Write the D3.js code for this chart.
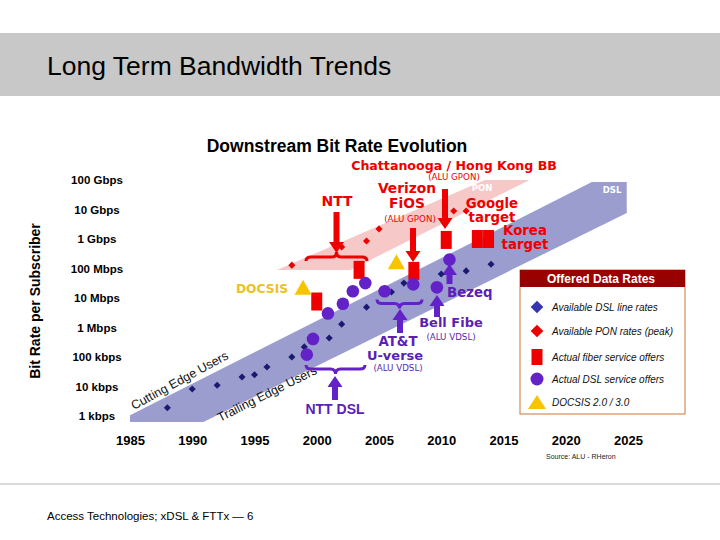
<!DOCTYPE html>
<html><head><meta charset="utf-8">
<script src="https://cdn.jsdelivr.net/npm/d3@7"></script>
<style>body{margin:0;background:#fff}svg{display:block}</style>
</head><body>
<svg id="c" width="720" height="540"></svg>
<script>
// ---------- data ----------
const xTicks = [1985, 1990, 1995, 2000, 2005, 2010, 2015, 2020, 2025];
const yTickValues = [1e3, 1e4, 1e5, 1e6, 1e7, 1e8, 1e9, 1e10, 1e11];
const yTickLabels = ["1 kbps", "10 kbps", "100 kbps", "1 Mbps", "10 Mbps", "100 Mbps", "1 Gbps", "10 Gbps", "100 Gbps"];

// Available DSL line rates (blue diamonds)
const dslYears = [1988, 1990, 1992, 1994, 1995, 1996, 1998, 1999, 2001, 2002, 2004, 2006, 2007, 2010, 2012, 2014];
const dslRates = [1.9e3, 8.2e3, 1.1e4, 2.1e4, 2.5e4, 4.6e4, 1e5, 2.2e5, 4.4e5, 1.3e6, 4.9e6, 1.6e7, 3.2e7, 6.5e7, 8.3e7, 1.4e8];
// Available PON rates (red diamonds)
const ponYears = [1998, 2002, 2004, 2005, 2011, 2012];
const ponRates = [1.3e8, 5.4e8, 8.5e8, 2.2e9, 8.9e9, 8.9e9];
// Actual fiber service offers (red bars)
const fiberYears = [2000, 2003.4, 2007.8, 2010.4, 2012.9, 2013.8];
const fiberRates = [7.6e6, 9e7, 8.3e7, 9.3e8, 1e9, 1e9];
// Actual DSL service offers (purple circles)
const dslOfferYears = [1999.2, 1999.7, 2000.9, 2002.1, 2002.9, 2003.9, 2005.45, 2007.75, 2009.65, 2010.66];
const dslOfferRates = [1.2e5, 4.1e5, 3e6, 6.4e6, 1.7e7, 3.2e7, 1.7e7, 2.9e7, 2.3e7, 2e8];
// DOCSIS 2.0 / 3.0 (yellow triangles)
const docsisYears = [1998.9, 2006.4];
const docsisRates = [2.3e7, 1.7e8];
// bands (year, bps)
const ponBand = [[1996.8, 8.9e7], [2013.5, 1e11], [2017.1, 1e11], [2002.7, 8.9e7]];
const dslBand = [[1985, 630], [1985, 1070], [2022.1, 8.5e10], [2024.9, 8.5e10], [2024.9, 7.6e9], [1990.9, 630]];

const legendLabels = ["Available DSL line rates", "Available PON rates (peak)", "Actual fiber service offers", "Actual DSL service offers", "DOCSIS 2.0 / 3.0"];

// ---------- drawing ----------
const svg = d3.select("#c");
const RED = "#ee0000", PURPLE = "#6322c8", PTEXT = "#5a1fb4", YEL = "#f8c400", NAVY = "#1a1a70";
const x = d3.scaleLinear().domain([1985, 2025]).range([130, 628]);
const y = d3.scaleLog().domain([1e3, 1e11]).range([416, 180]);

// header
svg.append("rect").attr("x", 0).attr("y", 33).attr("width", 720).attr("height", 63).attr("fill", "#c8c8c8");
svg.append("text").attr("x", 47).attr("y", 75).text("Long Term Bandwidth Trends")
  .attr("font-family", "Liberation Sans, Arial, sans-serif").attr("font-size", 26.5).attr("fill", "#000");
// footer
svg.append("line").attr("x1", 0).attr("x2", 720).attr("y1", 484).attr("y2", 484).attr("stroke", "#cfcfcf").attr("stroke-width", 1.5);
svg.append("text").attr("x", 47).attr("y", 520).text("Access Technologies; xDSL & FTTx — 6")
  .attr("font-family", "Liberation Sans, Arial, sans-serif").attr("font-size", 11.5).attr("fill", "#000");

// chart title
svg.append("text").attr("x", 337).attr("y", 152).attr("text-anchor", "middle").text("Downstream Bit Rate Evolution")
  .attr("font-family", "Liberation Sans, Arial, sans-serif").attr("font-weight", "bold").attr("font-size", 17.5);

// y axis title
svg.append("text").attr("transform", "translate(40,301) rotate(-90)").attr("text-anchor", "middle")
  .text("Bit Rate per Subscriber").attr("font-family", "Liberation Sans, Arial, sans-serif")
  .attr("font-weight", "bold").attr("font-size", 14);

// bands
const line = d3.line().x(d => x(d[0])).y(d => y(d[1]));
svg.append("path").attr("d", line(ponBand) + "Z").attr("fill", "#f7c8c8");
svg.append("path").attr("d", line(dslBand) + "Z").attr("fill", "#9b9dcf");
svg.append("text").attr("x", 482).attr("y", 190.5).attr("text-anchor", "middle").text("PON")
  .attr("font-family", "DejaVu Sans, sans-serif").attr("font-weight", "bold").attr("font-size", 8.5).attr("fill", "#fff");
svg.append("text").attr("x", 612).attr("y", 193).attr("text-anchor", "middle").text("DSL")
  .attr("font-family", "DejaVu Sans, sans-serif").attr("font-weight", "bold").attr("font-size", 8.5).attr("fill", "#fff");

// band text
svg.append("text").attr("transform", "translate(134,410) rotate(-28.5)").text("Cutting Edge Users")
  .attr("font-family", "Liberation Sans, Arial, sans-serif").attr("font-size", 12.5).attr("fill", "#111");
svg.append("text").attr("transform", "translate(220,422) rotate(-26.5)").text("Trailing Edge Users")
  .attr("font-family", "Liberation Sans, Arial, sans-serif").attr("font-size", 12.5).attr("fill", "#111");

// x axis
const xAxis = d3.axisBottom(x).tickValues(xTicks).tickSize(0).tickFormat(d3.format("d"));
const gx = svg.append("g").attr("transform", "translate(0,433)").call(xAxis);
gx.select(".domain").remove();
gx.selectAll("text").attr("font-family", "Liberation Sans, Arial, sans-serif").attr("font-weight", "bold").attr("font-size", 13).attr("fill", "#000");

// y axis labels
svg.append("g").selectAll("text").data(yTickValues).join("text")
  .attr("x", 97).attr("y", d => y(d) + 4).attr("text-anchor", "middle")
  .text((d, i) => yTickLabels[i])
  .attr("font-family", "Liberation Sans, Arial, sans-serif").attr("font-weight", "bold").attr("font-size", 11.5);

// helpers
function arrowPath(ax, y0, y1) {
  const dir = Math.sign(y1 - y0), yb = y1 - 11 * dir;
  return `M${ax-3},${y0}L${ax+3},${y0}L${ax+3},${yb}L${ax+7.5},${yb}L${ax},${y1}L${ax-7.5},${yb}L${ax-3},${yb}Z`;
}
function bracePath(x0, x1, yl, e) {
  const xm = (x0 + x1) / 2;
  return `M${x0},${yl+4*e}Q${x0},${yl} ${x0+5},${yl}L${xm-5},${yl}Q${xm},${yl} ${xm},${yl-5*e}Q${xm},${yl} ${xm+5},${yl}L${x1-5},${yl}Q${x1},${yl} ${x1},${yl+4*e}`;
}
function tri(cx, cy, w, h) { return `M${cx},${cy-h/2}L${cx+w/2},${cy+h/2}L${cx-w/2},${cy+h/2}Z`; }
const sq = d3.symbol(d3.symbolSquare);

// annotations: brackets and arrows
const ann = svg.append("g");
ann.append("path").attr("d", bracePath(306, 367, 257, 1)).attr("fill", "none").attr("stroke", RED).attr("stroke-width", 3);
ann.append("path").attr("d", arrowPath(336.5, 212, 253)).attr("fill", RED);
ann.append("path").attr("d", arrowPath(413, 228, 262)).attr("fill", RED);
ann.append("path").attr("d", arrowPath(445, 189, 229)).attr("fill", RED);
ann.append("path").attr("d", bracePath(377, 422, 303.5, -1)).attr("fill", "none").attr("stroke", PURPLE).attr("stroke-width", 3);
ann.append("path").attr("d", arrowPath(400, 333, 309)).attr("fill", PURPLE);
ann.append("path").attr("d", bracePath(306, 365, 369, -1)).attr("fill", "none").attr("stroke", PURPLE).attr("stroke-width", 3);
ann.append("path").attr("d", arrowPath(335, 400, 376)).attr("fill", PURPLE);
ann.append("path").attr("d", arrowPath(437, 317, 295)).attr("fill", PURPLE);
ann.append("path").attr("d", arrowPath(449.5, 284, 264)).attr("fill", PURPLE);

// marks
svg.append("g").selectAll("path").data(dslYears).join("path")
  .attr("d", sq.size(25)()).attr("fill", NAVY)
  .attr("transform", (d, i) => `translate(${x(d)},${y(dslRates[i])}) rotate(45)`);
svg.append("g").selectAll("path").data(ponYears).join("path")
  .attr("d", sq.size(25)()).attr("fill", RED)
  .attr("transform", (d, i) => `translate(${x(d)},${y(ponRates[i])}) rotate(45)`);
svg.append("g").selectAll("rect").data(fiberYears).join("rect")
  .attr("x", d => x(d) - 5.5).attr("y", (d, i) => y(fiberRates[i]) - 9)
  .attr("width", 11).attr("height", 18).attr("fill", RED);
svg.append("g").selectAll("circle").data(dslOfferYears).join("circle")
  .attr("cx", d => x(d)).attr("cy", (d, i) => y(dslOfferRates[i])).attr("r", 6.3).attr("fill", PURPLE);
svg.append("g").selectAll("path").data(docsisYears).join("path")
  .attr("d", (d, i) => tri(x(d), y(docsisRates[i]), 17, 15)).attr("fill", YEL);

// annotation texts
const lab = (t, tx, ty, col, size, opts = {}) => svg.append("text").attr("x", tx).attr("y", ty)
  .attr("text-anchor", opts.anchor || "middle").text(t)
  .attr("font-family", opts.family || "DejaVu Sans, Verdana, sans-serif")
  .attr("font-weight", opts.weight || "bold").attr("font-size", size).attr("fill", col);
lab("Chattanooga / Hong Kong BB", 454, 169.5, RED, 12.6);
lab("(ALU GPON)", 454, 179.5, RED, 8.7, {weight: "normal"});
lab("NTT", 337, 206, RED, 14);
lab("Verizon", 407, 193, RED, 13.8);
lab("FiOS", 407, 208, RED, 13.8);
lab("(ALU GPON)", 410, 222, RED, 8.7, {weight: "normal"});
lab("Google", 492, 208, RED, 13.3);
lab("target", 492, 221.5, RED, 13.3);
lab("Korea", 525, 235, RED, 13.3);
lab("target", 525, 249, RED, 13.3);
lab("DOCSIS", 262, 293, "#ecc21c", 12.3);
lab("Bezeq", 447, 297, PTEXT, 13.3, {anchor: "start"});
lab("Bell Fibe", 451, 327, PTEXT, 13);
lab("(ALU VDSL)", 451, 339.5, PTEXT, 8.7, {weight: "normal"});
lab("AT&T", 398, 346, PTEXT, 13.3);
lab("U-verse", 395, 360, PTEXT, 13);
lab("(ALU VDSL)", 398, 371, PTEXT, 8.7, {weight: "normal"});
lab("NTT DSL", 335, 414, PTEXT, 14, {family: "Liberation Sans, Arial, sans-serif"});

// legend
const lg = svg.append("g");
lg.append("rect").attr("x", 520).attr("y", 270).attr("width", 165).attr("height", 144)
  .attr("fill", "#fff").attr("stroke", "#c8783a").attr("stroke-width", 1);
lg.append("rect").attr("x", 520).attr("y", 270).attr("width", 165).attr("height", 17).attr("fill", "#990000");
lg.append("text").attr("x", 601).attr("y", 283).attr("text-anchor", "middle").text("Offered Data Rates")
  .attr("font-family", "Liberation Sans, Arial, sans-serif").attr("font-weight", "bold").attr("font-size", 12).attr("fill", "#fff");
const ly = [307, 331, 357, 379, 402];
lg.append("path").attr("d", sq.size(81)()).attr("fill", "#3535b0").attr("transform", `translate(537,${ly[0]}) rotate(45)`);
lg.append("path").attr("d", sq.size(81)()).attr("fill", RED).attr("transform", `translate(537,${ly[1]}) rotate(45)`);
lg.append("rect").attr("x", 531.5).attr("y", ly[2] - 8).attr("width", 11).attr("height", 16).attr("fill", RED);
lg.append("circle").attr("cx", 537).attr("cy", ly[3]).attr("r", 6.5).attr("fill", PURPLE);
lg.append("path").attr("d", tri(537, ly[4], 18, 14)).attr("fill", YEL);
lg.selectAll("text.it").data(legendLabels).join("text").attr("class", "it")
  .attr("x", 552).attr("y", (d, i) => ly[i] + 3.5).text(d => d)
  .attr("font-family", "Liberation Sans, Arial, sans-serif").attr("font-style", "italic").attr("font-size", 10).attr("fill", "#111");

// source
svg.append("text").attr("x", 546).attr("y", 459).text("Source: ALU - RHeron")
  .attr("font-family", "Liberation Sans, Arial, sans-serif").attr("font-size", 7).attr("fill", "#222");
</script>
</body></html>
